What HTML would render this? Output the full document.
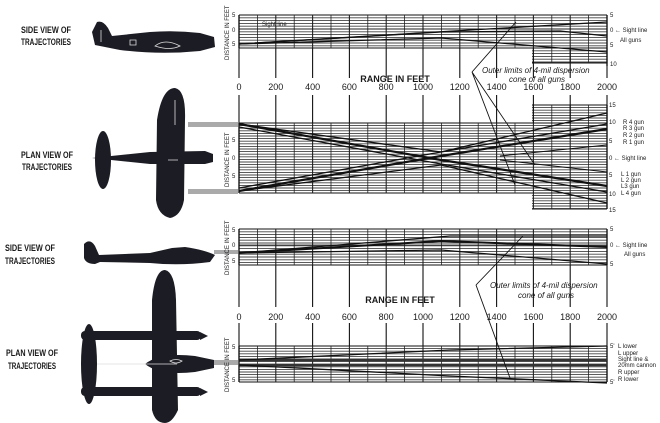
<!DOCTYPE html>
<html><head><meta charset="utf-8"><style>
html,body{margin:0;padding:0;background:#fff;}
svg{display:block;}
text{font-family:"Liberation Sans",sans-serif;fill:#1a1a1a;}
.lb{font-size:9px;font-weight:bold;}
.sm{font-size:6px;}
.ax{font-size:9px;}
.it{font-size:8px;font-style:italic;}
</style></head><body>
<svg id="s" width="660" height="423" viewBox="0 0 660 423" xmlns="http://www.w3.org/2000/svg">
<g id="grid"></g>
<!-- left labels -->
<g class="lb" text-anchor="middle" lengthAdjust="spacingAndGlyphs">
<text x="46" y="33" textLength="50" lengthAdjust="spacingAndGlyphs">SIDE VIEW OF</text><text x="46" y="45" textLength="50" lengthAdjust="spacingAndGlyphs">TRAJECTORIES</text>
<text x="47" y="158" textLength="52" lengthAdjust="spacingAndGlyphs">PLAN VIEW OF</text><text x="47" y="170" textLength="50" lengthAdjust="spacingAndGlyphs">TRAJECTORIES</text>
<text x="30" y="251" textLength="50" lengthAdjust="spacingAndGlyphs">SIDE VIEW OF</text><text x="30" y="264" textLength="50" lengthAdjust="spacingAndGlyphs">TRAJECTORIES</text>
<text x="32" y="356" textLength="52" lengthAdjust="spacingAndGlyphs">PLAN VIEW OF</text><text x="32" y="369" textLength="48" lengthAdjust="spacingAndGlyphs">TRAJECTORIES</text>
</g>
<!-- aircraft -->
<g fill="#1c1c24">
<path d="M92,32 L97,22 Q103,20 108,28 L112,36 L150,32 Q175,30 200,33 L214,37 L215,47 L200,51 Q160,55 120,50 L95,45 Z"/>
<path d="M157,120 Q162,88 175,88 Q186,90 185,120 L184,200 Q181,216 170,218 Q158,215 156,200 Z"/>
<path d="M92,158 L150,152 L205,151 L213,154 L213,162 L205,164 L150,164 Z"/>
<ellipse cx="103" cy="160" rx="8" ry="29"/>
<path d="M84,244 Q90,238 95,246 L99,255 L150,253 L172,248 L185,247 Q205,250 215,255 L210,262 Q180,266 150,263 L100,262 L95,264 Q86,264 84,258 Z"/>
<path d="M152,300 Q155,270 165,270 Q175,272 176,300 L178,410 Q172,423 165,423 Q155,423 152,410 Z"/>
<rect x="81" y="331" width="120" height="9" rx="4"/>
<rect x="81" y="387" width="120" height="9" rx="4"/>
<path d="M200,332 L208,336 L200,340Z M200,388 L208,392 L200,396Z"/>
<ellipse cx="89" cy="364" rx="8" ry="40"/>
<path d="M145,364 Q160,352 195,356 L214,360 L214,368 L195,372 Q160,376 145,364Z"/>
</g>
<g fill="none" stroke="#ddd" stroke-width="0.8">
<path d="M101,30 v12 M130,40 h6 v5 h-6z M155,46 q10,-8 25,0 q-10,5 -25,0z M168,160 h10 M175,100 v25"/>
<path d="M97,364 h80 M170,361 q6,-3 12,0 q-6,4 -12,0z"/>
</g>
<g fill="#aaa">
<rect x="188" y="122" width="50" height="5"/><rect x="188" y="189" width="50" height="5"/>
<rect x="214" y="250" width="24" height="4"/><rect x="214" y="360" width="24" height="5"/>
</g>
<g id="traj" fill="none" stroke="#111" stroke-width="1.3">
<path d="M239,44 L441,32 L560,31 L607,36"/>
<path d="M239,44 L420,33 L607,22"/>
<path d="M239,44 L441,38 L607,52"/>
<path d="M239,29 L607,29" stroke-width="0.8"/>
<path d="M239,124 L441,160 L607,186" stroke-width="2.2"/>
<path d="M239,191 L441,156 L607,129" stroke-width="2.2"/>
<path d="M239,127 L441,164 L607,192"/>
<path d="M239,188 L441,152 L607,124"/>
<path d="M239,124 L441,152 L607,113"/>
<path d="M239,191 L441,165 L607,203"/>
<path d="M500,160 L607,172 M500,156 L607,145" stroke-width="1"/>
<path d="M239,253 L441,241 L607,247" stroke-width="2"/>
<path d="M239,253 L450,236 L607,236"/>
<path d="M239,253 L441,250 L607,264"/>
<path d="M239,245 L607,245" stroke-width="0.8"/>
<path d="M239,360 L607,360 M239,365 L607,365" stroke-width="2.5" stroke="#333"/>
<path d="M239,360 L450,350 L607,346"/>
<path d="M239,365 L450,376 L607,383"/>
<path d="M472,72 L516,22 M472,72 L535,165 M472,72 L515,185" stroke-width="0.9"/>
<path d="M476,285 L523,236 M476,285 L510,378" stroke-width="0.9"/>
</g>
<g class="it">
<text x="482" y="73">Outer limits of 4-mil dispersion</text>
<text x="509" y="82">cone of all guns</text>
<text x="490" y="288">Outer limits of 4-mil dispersion</text>
<text x="518" y="298">cone of all guns</text>
</g>
<text x="395" y="82" class="ax" font-weight="bold" text-anchor="middle" font-size="8">RANGE IN FEET</text>
<text x="400" y="303" class="ax" font-weight="bold" text-anchor="middle" font-size="8">RANGE IN FEET</text>
<g id="axl" class="ax" text-anchor="middle"></g>
<g class="sm">
<text x="262" y="26">Sight line</text>
<text x="610" y="17">5</text><text x="610" y="32">0 ← Sight line</text><text x="620" y="42">All guns</text><text x="610" y="47">5</text><text x="610" y="66">10</text>
<text x="609" y="107">15</text>
<text x="609" y="124">10</text><text x="623" y="124">R 4 gun</text><text x="623" y="130">R 3 gun</text><text x="623" y="137">R 2 gun</text><text x="623" y="144">R 1 gun</text>
<text x="609" y="143">5</text><text x="609" y="160">0 ← Sight line</text>
<text x="609" y="177">5</text><text x="621" y="176">L 1 gun</text><text x="621" y="182">L 2 gun</text><text x="621" y="188">L3 gun</text><text x="621" y="195">L 4 gun</text>
<text x="609" y="196">10</text><text x="609" y="212">15</text>
<text x="610" y="231">5</text><text x="610" y="247">0 ← Sight line</text><text x="624" y="256">All guns</text><text x="610" y="266">5</text>
<text x="610" y="348">5'</text><text x="618" y="348">L lower</text><text x="618" y="355">L upper</text><text x="618" y="361">Sight line &amp;</text><text x="618" y="367">20mm cannon</text><text x="618" y="374">R upper</text><text x="618" y="381">R lower</text><text x="610" y="384">5'</text>
<text x="232" y="17">5</text><text x="232" y="32">0</text><text x="232" y="46">5</text>
<text x="232" y="142">5</text><text x="232" y="160">0</text><text x="232" y="178">5</text>
<text x="232" y="232">5</text><text x="232" y="247">0</text><text x="232" y="263">5</text>
<text x="232" y="349">5</text><text x="232" y="382">5</text>
</g>
<g class="sm" font-size="6.5">
<text transform="translate(229,60) rotate(-90)">DISTANCE IN FEET</text>
<text transform="translate(229,187) rotate(-90)">DISTANCE IN FEET</text>
<text transform="translate(229,275) rotate(-90)">DISTANCE IN FEET</text>
<text transform="translate(229,392) rotate(-90)">DISTANCE IN FEET</text>
</g>
</svg>
<script>
var NS="http://www.w3.org/2000/svg",g=document.getElementById('grid'),ax=document.getElementById('axl');
function L(x1,y1,x2,y2,c,w){var l=document.createElementNS(NS,'line');l.setAttribute('x1',x1);l.setAttribute('y1',y1);l.setAttribute('x2',x2);l.setAttribute('y2',y2);l.setAttribute('stroke',c);l.setAttribute('stroke-width',w);g.appendChild(l);}
function X(r){return 239+r*0.184;}
function box(x1,x2,y1,y2,step){for(var y=y1;y<=y2+0.1;y+=step)L(x1,y,x2,y,'#444',0.9);L(x1,y1,x2,y1,'#111',1);L(x1,y2,x2,y2,'#111',1);
 for(var r=0;r<=2000;r+=100){var x=X(r);if(x>=x1-0.5&&x<=x2+0.5)L(x,y1,x,y2,'#222',r%200?0.8:1.1);}}
box(239,607,15,48,2.8);box(532,607,48,63,2.8);
box(239,607,123,193,2.6);box(532,607,105,123,2.6);box(532,607,193,209,2.6);
box(239,607,229,265,2.8);box(239,607,346,382,2.6);
for(var r=0;r<=2000;r+=200){var x=X(r);L(x,48,x,78,'#111',1.1);L(x,95,x,123,'#111',1.1);L(x,265,x,307,'#111',1.1);L(x,323,x,346,'#111',1.1);
 var t=document.createElementNS(NS,'text');t.setAttribute('x',x);t.setAttribute('y',90);t.textContent=r;ax.appendChild(t);
 t=t.cloneNode(true);t.setAttribute('y',320);ax.appendChild(t);}
L(239,15,239,48,'#111',1.3);L(607,15,607,66,'#111',1.3);L(607,105,607,209,'#111',1.3);L(239,123,239,193,'#111',1.3);
L(239,229,239,265,'#111',1.3);L(607,229,607,265,'#111',1.3);L(239,346,239,382,'#111',1.3);L(607,346,607,382,'#111',1.3);
</script>
</body></html>
